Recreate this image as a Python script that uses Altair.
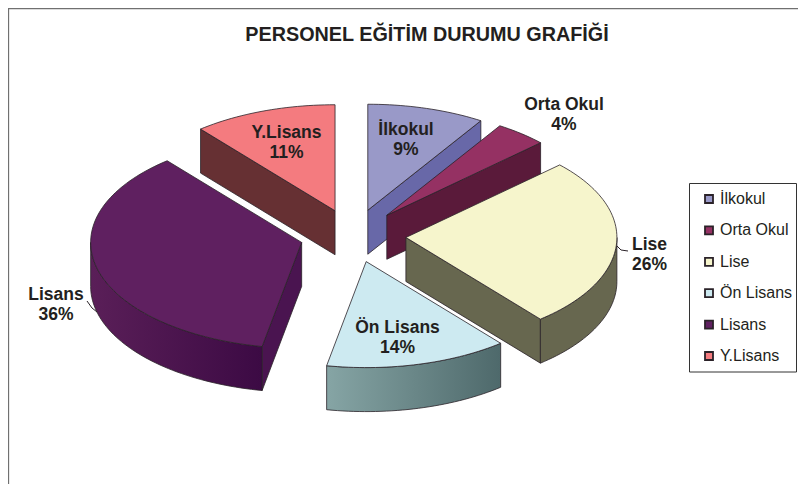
import math
import altair as alt

names = ["İlkokul", "Orta Okul", "Lise", "Ön Lisans", "Lisans", "Y.Lisans"]
shares = [9, 4, 26, 14, 36, 11]
top_colors = ["#9999c8", "#953163", "#f6f5cc", "#cdeaf1", "#5f2060", "#f47b7f"]
wall_colors = ["#6868a8", "#5a1a3a", "#67674f", "#4e696b", "#4a1450", "#663033"]
rim_from = ["#6868a8", "#5a1a3a", "#67674f", "#86a5a5", "#5a1f58", "#663033"]
rim_to = ["#6868a8", "#5a1a3a", "#67674f", "#4e696b", "#3c0a44", "#663033"]
paint_order = ["Y.Lisans", "İlkokul", "Orta Okul", "Lisans", "Lise", "Ön Lisans"]

label_names = ["İlkokul", "Orta Okul", "Lise", "Ön Lisans", "Lisans", "Y.Lisans"]
label_x = [398, 556, 641.5, 389.5, 48, 278.5]
label_y = [122, 97, 237, 320, 287, 125]

title_text = "PERSONEL EĞİTİM DURUMU GRAFİĞİ"
FONT = "Liberation Sans"
INK = "#231f20"
EDGE = "#2a2228"

# pie geometry (chart pixels)
CX, CY, A, B, DEPTH, EXPLODE = 345.0, 227.8, 211.0, 106.0, 44.0, 0.2512


def pt(t, ox, oy, drop=0.0):
    r = math.radians(t)
    return [round(ox + A * math.sin(r), 2), round(oy - B * math.cos(r) + drop, 2)]


def arc(t0, t1, ox, oy, drop=0.0):
    n = max(2, int(abs(t1 - t0) / 1.5) + 1)
    return [pt(t0 + (t1 - t0) * i / n, ox, oy, drop) for i in range(n + 1)]


def poly(coords):
    return {"type": "Feature",
            "geometry": {"type": "Polygon", "coordinates": [coords + [coords[0]]]},
            "properties": {}}


PROJ = dict(type="identity", scale=1, translate=[0, 0])
color_scale = alt.Scale(domain=names, range=top_colors)
legend = alt.Legend(
    orient="none", legendX=693, legendY=183, title=None,
    symbolType="square", symbolSize=64, symbolStrokeColor=EDGE, symbolStrokeWidth=1.8,
    labelFont=FONT, labelFontSize=16, labelColor=INK, labelOffset=3,
    rowPadding=15.4, padding=0, labelLimit=100,
)


def shape(feature, **mark):
    return alt.Chart(alt.Data(values=[feature])).mark_geoshape(
        stroke=EDGE, strokeWidth=0.8, **mark
    ).project(**PROJ)


layers = []
spans = {}
t = 0.0
for name, s in zip(names, shares):
    spans[name] = (t, t + s * 3.6)
    t += s * 3.6

for name in paint_order:
    i = names.index(name)
    t0, t1 = spans[name]
    mid = math.radians((t0 + t1) / 2)
    ox = CX + EXPLODE * A * math.sin(mid)
    oy = CY - EXPLODE * B * math.cos(mid)
    apex = [round(ox, 2), round(oy, 2)]
    apex_low = [apex[0], round(oy + DEPTH, 2)]
    for tt, visible in ((t0, math.sin(math.radians(t0)) < -1e-6),
                        (t1, math.sin(math.radians(t1)) > 1e-6)):
        if visible:
            layers.append(shape(poly([apex, pt(tt, ox, oy), pt(tt, ox, oy, DEPTH), apex_low]),
                                fill=wall_colors[i]))
    lo, hi = max(t0, 90.0), min(t1, 270.0)
    if hi > lo:
        outer = arc(lo, hi, ox, oy)
        inner = arc(lo, hi, ox, oy, DEPTH)[::-1]
        grad = alt.LinearGradient(gradient="linear", x1=0, y1=0, x2=1, y2=0,
                                  stops=[alt.GradientStop(color=rim_from[i], offset=0),
                                         alt.GradientStop(color=rim_to[i], offset=1)])
        layers.append(shape(poly(outer + inner), fill=grad))
    face = poly([apex] + arc(t0, t1, ox, oy))
    face["properties"]["name"] = name
    layers.append(
        alt.Chart(alt.Data(values=[face])).mark_geoshape(stroke=EDGE, strokeWidth=0.8)
        .encode(color=alt.Color("properties.name:N", scale=color_scale, legend=legend))
        .project(**PROJ)
    )


def line(coords, color=EDGE, width=1.0):
    f = {"type": "Feature", "geometry": {"type": "LineString", "coordinates": coords}, "properties": {}}
    return alt.Chart(alt.Data(values=[f])).mark_geoshape(
        filled=False, stroke=color, strokeWidth=width).project(**PROJ)


layers.append(line([[609, 238], [613, 242], [620, 243]]))
layers.append(line([[79, 293], [84, 300], [89, 304]]))
layers.append(line([[0.5, 476], [0.5, 0.5], [790, 0.5]], "#707070", 1.3))
layers.append(line([[681.5, 175.5], [788.5, 175.5], [788.5, 364], [681.5, 364], [681.5, 175.5]], "#333333", 1.0))

pcts = {n: s for n, s in zip(names, shares)}
label_rows = [{"text": f"{n}\n{pcts[n]}%", "lx": x, "ly": y}
              for n, x, y in zip(label_names, label_x, label_y)]
layers.append(
    alt.Chart(alt.Data(values=label_rows))
    .mark_text(font=FONT, fontSize=17.5, fontWeight="bold", color=INK, align="center",
               baseline="middle", lineBreak="\n", lineHeight=20.3)
    .encode(x=alt.X("lx:Q", scale=None), y=alt.Y("ly:Q", scale=None), text="text:N")
)
layers.append(
    alt.Chart(alt.Data(values=[{"text": title_text, "lx": 419, "ly": 27}]))
    .mark_text(font=FONT, fontSize=19.8, fontWeight="bold", color=INK, align="center", baseline="middle")
    .encode(x=alt.X("lx:Q", scale=None), y=alt.Y("ly:Q", scale=None), text="text:N")
)

chart = alt.layer(*layers).properties(
    width=790, height=476, padding=0, background="#ffffff",
    autosize=alt.AutoSizeParams(type="none"),
).configure_view(stroke=None)

chart.save("out.html", embed_options={"renderer": "svg", "actions": False})
